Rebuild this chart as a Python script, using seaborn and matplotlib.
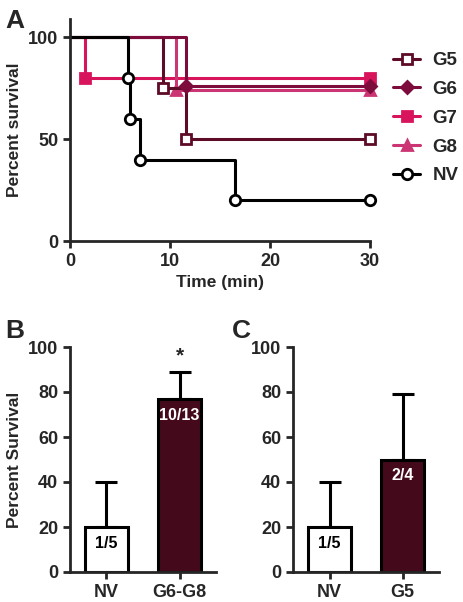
import matplotlib
matplotlib.use("Agg")
import matplotlib.pyplot as plt
from matplotlib.lines import Line2D
import seaborn as sns
import pandas as pd

sns.set_style("ticks")
plt.rcParams['font.family'] = ['Liberation Sans', 'DejaVu Sans']
plt.rcParams['font.weight'] = 'bold'

# Panel A: Kaplan-Meier style survival curves (time in min, percent survival)
groups = ['G5', 'G6', 'G7', 'G8', 'NV']
times = {
    'G5': [0, 9.3, 11.6, 30],
    'G6': [0, 11.6, 30],
    'G7': [0, 1.5, 30],
    'G8': [0, 10.6, 30],
    'NV': [0, 5.8, 6.0, 7.0, 16.5, 30],
}
surv = {
    'G5': [100, 75, 50, 50],
    'G6': [100, 76, 76],
    'G7': [100, 80, 80],
    'G8': [100, 74, 74],
    'NV': [100, 80, 60, 40, 20, 20],
}
colors = {'G5': '#5e0b27', 'G6': '#7d0c3c', 'G7': '#d8145c',
          'G8': '#cc3574', 'NV': '#000000'}
markers = {'G5': 's', 'G6': 'D', 'G7': 's', 'G8': '^', 'NV': 'o'}
open_marker = {'G5': True, 'G6': False, 'G7': False, 'G8': False, 'NV': True}
msize = {'G5': 7, 'G6': 6.5, 'G7': 6.5, 'G8': 7.5, 'NV': 7.5}

# Panel B / C: percent survival bars
b_cats = ['NV', 'G6-G8']
b_vals = [20, 77]
b_err = [20, 12]
b_text = ['1/5', '10/13']
c_cats = ['NV', 'G5']
c_vals = [20, 50]
c_err = [20, 29]
c_text = ['1/5', '2/4']
bar_colors = ['white', '#4e0019']
text_colors = ['black', 'white']

fig = plt.figure(figsize=(4.64, 6.02), dpi=100)
axA = fig.add_axes([70/464, 1-241/602, 300/464, 222/602])
axB = fig.add_axes([70/464, 1-572/602, 146/464, 225/602])
axC = fig.add_axes([293/464, 1-572/602, 146/464, 225/602])

lw = 2.2
handles = []
for g in ['G7', 'G8', 'G5', 'G6', 'NV']:
    df = pd.DataFrame({'t': times[g], 's': surv[g]})
    fc = 'white' if open_marker[g] else colors[g]
    sns.lineplot(data=df, x='t', y='s', ax=axA, sort=False, estimator=None,
                 drawstyle='steps-post', color=colors[g], lw=lw,
                 marker=markers[g], markevery=list(range(1, len(df))),
                 markersize=msize[g], markerfacecolor=fc,
                 markeredgecolor=colors[g], markeredgewidth=2, clip_on=False)
for g in groups:
    fc = 'white' if open_marker[g] else colors[g]
    handles.append(Line2D([], [], color=colors[g], lw=lw, marker=markers[g],
                          markersize=msize[g], markerfacecolor=fc,
                          markeredgecolor=colors[g], markeredgewidth=2))
axA.legend(handles, groups, loc='upper left', bbox_to_anchor=(1.015, 0.935),
           frameon=False, fontsize=13.5, handlelength=1.45, labelspacing=0.62,
           handletextpad=0.65, borderaxespad=0.6)
axA.set_xlim(0, 30)
axA.set_ylim(0, 109)
axA.set_xticks([0, 10, 20, 30])
axA.set_yticks([0, 50, 100])
axA.set_xlabel('Time (min)', fontsize=12.5, fontweight='bold')
axA.set_ylabel('Percent survival', fontsize=12.5, fontweight='bold', labelpad=4)


def bar_panel(ax, cats, vals, errs, texts):
    df = pd.DataFrame({'cat': cats, 'val': vals})
    sns.barplot(data=df, x='cat', y='val', ax=ax, palette=bar_colors,
                hue='cat', legend=False, width=0.6, edgecolor='black',
                linewidth=2.2, errorbar=None)
    ax.errorbar(range(len(cats)), vals, yerr=[[0] * len(cats), errs],
                fmt='none', ecolor='black', elinewidth=2.2, capsize=8,
                capthick=2.2, zorder=0)
    for i, (v, t) in enumerate(zip(vals, texts)):
        ax.text(i, v - 4, t, ha='center', va='top', fontsize=11.5,
                fontweight='bold', color=text_colors[i])
    ax.set_xlim(-0.5, 1.5)
    ax.set_ylim(0, 100)
    ax.set_yticks([0, 20, 40, 60, 80, 100])
    ax.set_xlabel('')
    ax.set_ylabel('')


bar_panel(axB, b_cats, b_vals, b_err, b_text)
bar_panel(axC, c_cats, c_vals, c_err, c_text)
axB.text(1, b_vals[1] + b_err[1] + 3, '*', ha='center', va='bottom',
         fontsize=15, fontweight='bold')
axB.set_ylabel('Percent Survival', fontsize=12.5, fontweight='bold', labelpad=4)

for ax in [axA, axB, axC]:
    sns.despine(ax=ax)
    for s in ['left', 'bottom']:
        ax.spines[s].set_linewidth(2)
    ax.tick_params(width=2, length=5, labelsize=13, direction='out')
    for lab in ax.get_xticklabels() + ax.get_yticklabels():
        lab.set_fontweight('bold')

fig.text(5/464, 1-28/602, 'A', fontsize=19, fontweight='bold')
fig.text(5/464, 1-338/602, 'B', fontsize=19, fontweight='bold')
fig.text(232/464, 1-338/602, 'C', fontsize=19, fontweight='bold')

fig.savefig('out.png', dpi=100)
